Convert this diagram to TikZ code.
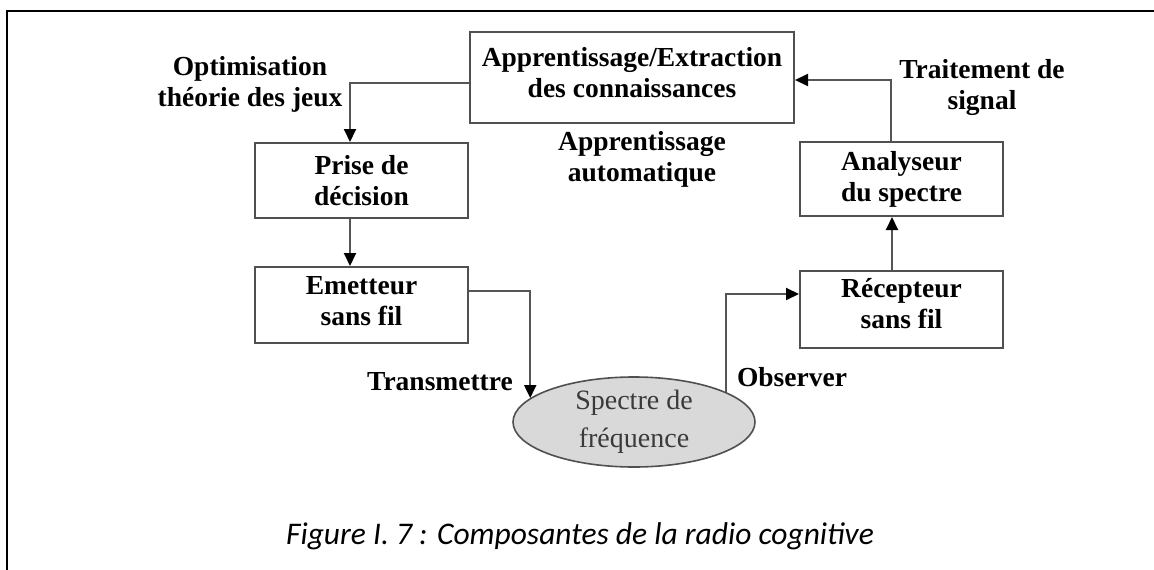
\documentclass[tikz,border=0pt]{standalone}
\usepackage{fontspec}
\setmainfont{Liberation Serif}
\newfontfamily\capfont{Carlito}
\usetikzlibrary{arrows.meta,shapes.geometric}
\definecolor{linegray}{HTML}{555555}
\definecolor{boxgray}{HTML}{505050}
\definecolor{ellfill}{HTML}{D9D9D9}
\definecolor{elltext}{HTML}{3A3A3A}
\tikzset{
  blk/.style={draw=boxgray,line width=2pt,rectangle,inner sep=0pt,align=center,
    font=\fontsize{27.5}{31}\selectfont\bfseries},
  lbl/.style={inner sep=0pt,align=center,font=\fontsize{27.5}{31}\selectfont\bfseries},
  arr/.style={draw=linegray,line width=2pt,-{Triangle[length=13pt,width=12pt,color=black]}},
}
\begin{document}
\begin{tikzpicture}[x=1pt,y=-1pt]
\useasboundingbox (0,0) rectangle (1154,570);
\draw[line width=2pt] (6.5,570) -- (6.5,10.5) -- (1154,10.5);
% boxes
\node[blk,minimum width=324pt,minimum height=91pt,text depth=10pt] (top) at (632,77.5) {Apprentissage/Extraction\\des connaissances};
\node[blk,minimum width=213pt,minimum height=75pt] (prise) at (361.5,180.5) {Prise de\\décision};
\node[blk,minimum width=213pt,minimum height=76pt,text depth=8pt] (emet) at (361.5,305) {Emetteur\\sans fil};
\node[blk,minimum width=203pt,minimum height=74pt] (anal) at (901.5,179) {Analyseur\\du spectre};
\node[blk,minimum width=203pt,minimum height=77pt,text depth=13pt] (recep) at (901.5,309.5) {Récepteur\\sans fil};
\node[ellipse,draw=boxgray,line width=1.6pt,fill=ellfill,minimum width=242pt,minimum height=90pt,inner sep=0pt,
  align=center,text=elltext,font=\fontsize{28}{38}\selectfont] (spec) at (634,422) {Spectre de\\fréquence};
% labels
\node[lbl] (opt) at (250,84.5) {Optimisation\\théorie des jeux};
\node[lbl] (trait) at (982,87) {Traitement de\\signal};
\node[lbl] (appr) at (642,159.5) {Apprentissage\\automatique};
\node[lbl] (trans) at (440,382) {Transmettre};
\node[lbl] (obs) at (792,377) {Observer};
\node[inner sep=0pt,font=\capfont\itshape\fontsize{31.5}{36}\selectfont] (cap) at (580,536) {Figure I. 7 : Composantes de la radio cognitive};
% connectors
\draw[arr] ([yshift=-5.5pt]top.west) -| ([xshift=-11.5pt]prise.north);
\draw[arr] ([xshift=-11.5pt]prise.south) -- ([xshift=-11.5pt]emet.north);
\draw[arr] ([yshift=14pt]emet.east) -| (spec.167);
\draw[arr] (spec.18.5) |- ([yshift=15.5pt]recep.west);
\draw[arr] ([xshift=-9.5pt]recep.north) -- ([xshift=-9.5pt]anal.south);
\draw[arr] ([xshift=-11pt]anal.north) |- ([yshift=-2.5pt]top.east);
\end{tikzpicture}
\end{document}
